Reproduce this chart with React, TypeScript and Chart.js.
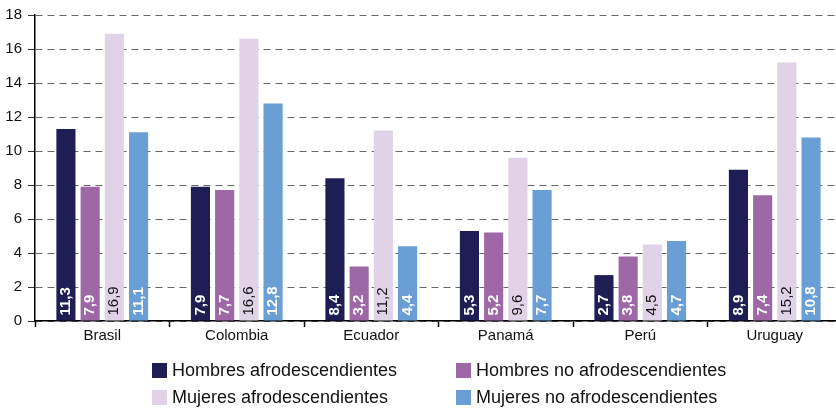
import React, { useEffect, useRef } from "react";
import { Chart, registerables } from "chart.js";

Chart.register(...registerables);

const categories = ["Brasil", "Colombia", "Ecuador", "Panamá", "Perú", "Uruguay"];
const seriesNames = [
  "Hombres afrodescendientes",
  "Hombres no afrodescendientes",
  "Mujeres afrodescendientes",
  "Mujeres no afrodescendientes",
];
const hombresAfro = [11.3, 7.9, 8.4, 5.3, 2.7, 8.9];
const hombresNoAfro = [7.9, 7.7, 3.2, 5.2, 3.8, 7.4];
const mujeresAfro = [16.9, 16.6, 11.2, 9.6, 4.5, 15.2];
const mujeresNoAfro = [11.1, 12.8, 4.4, 7.7, 4.7, 10.8];
const colors = ["#1f1e54", "#9e67a6", "#e0d3e8", "#6a9fd6"];
const labelColors = ["#ffffff", "#ffffff", "#111111", "#ffffff"];
const labelBold = [true, true, false, true];

const FONT = "'Liberation Sans', Arial, Helvetica, sans-serif";

const barLabels = {
  id: "barLabels",
  afterDatasetsDraw(chart: any) {
    const ctx = chart.ctx;
    chart.data.datasets.forEach((ds: any, di: number) => {
      const meta = chart.getDatasetMeta(di);
      meta.data.forEach((el: any, i: number) => {
        const v = ds.data[i];
        const { x, base } = el.getProps(["x", "base"], true);
        ctx.save();
        ctx.translate(x, base - 5);
        ctx.rotate(-Math.PI / 2);
        ctx.font = (labelBold[di] ? "bold " : "") + "15px " + FONT;
        ctx.fillStyle = labelColors[di];
        ctx.textAlign = "left";
        ctx.textBaseline = "middle";
        ctx.fillText(v.toFixed(1).replace(".", ","), 0, 0);
        ctx.restore();
      });
    });
  },
};

export default function App() {
  const ref = useRef<HTMLCanvasElement>(null);
  useEffect(() => {
    document.body.style.margin = "0";
    const series = [hombresAfro, hombresNoAfro, mujeresAfro, mujeresNoAfro];
    const chart = new Chart(ref.current!, {
      type: "bar",
      data: {
        labels: categories,
        datasets: series.map((d, i) => ({
          label: seriesNames[i],
          data: d,
          backgroundColor: colors[i],
          categoryPercentage: 0.72,
          barPercentage: 0.79,
        })),
      },
      options: {
        responsive: false,
        animation: false,
        layout: { padding: { top: 11, bottom: 60, left: 0, right: 0 } },
        plugins: { legend: { display: false }, tooltip: { enabled: false } },
        scales: {
          x: {
            grid: {
              offset: true,
              drawOnChartArea: false,
              drawTicks: true,
              tickLength: 6,
              tickColor: "#000",
              tickWidth: 1.5,
            },
            border: { display: true, color: "#000", width: 1.5 },
            ticks: { color: "#111", font: { family: FONT, size: 15 }, padding: 0 },
            afterFit: (s: any) => {
              s.height = 28;
            },
          },
          y: {
            min: 0,
            max: 18,
            ticks: { stepSize: 2, color: "#111", font: { family: FONT, size: 15 }, padding: 6 },
            grid: {
              color: "#666666",
              lineWidth: 1,
              tickLength: 7,
              tickColor: "#333",
              tickBorderDash: [],
            },
            border: { display: true, color: "#000", width: 1.5, dash: [7, 5] },
            afterFit: (s: any) => {
              s.width = 35;
            },
          },
        },
      },
      plugins: [barLabels],
    });
    return () => chart.destroy();
  }, []);

  const legendItems = [
    { x: 152, y: 370, i: 0 },
    { x: 456, y: 370, i: 1 },
    { x: 152, y: 397, i: 2 },
    { x: 456, y: 397, i: 3 },
  ];

  return (
    <div style={{ position: "relative", width: 836, height: 409, overflow: "hidden", background: "#fff" }}>
      <canvas ref={ref} width={842} height={409} style={{ width: 842, height: 409, display: "block" }} />
      {legendItems.map((it) => (
        <div
          key={it.i}
          style={{
            position: "absolute",
            left: it.x,
            top: it.y - 11,
            height: 22,
            display: "flex",
            alignItems: "center",
            fontFamily: FONT,
            fontSize: 18,
            color: "#111",
            whiteSpace: "nowrap",
          }}
        >
          <span
            style={{
              display: "inline-block",
              width: 15,
              height: 15,
              background: colors[it.i],
              marginRight: 5,
            }}
          />
          <span>{seriesNames[it.i]}</span>
        </div>
      ))}
    </div>
  );
}
